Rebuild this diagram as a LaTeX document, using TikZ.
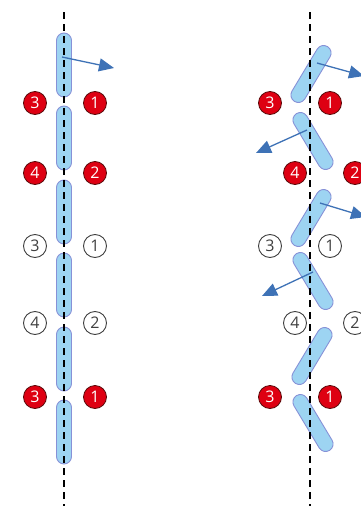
\documentclass[tikz,border=0pt]{standalone}
\usepackage{fontspec}
\setmainfont{Open Sans}
\usepackage{xcolor}
\usetikzlibrary{arrows.meta, positioning, calc}

\definecolor{rodfill}{RGB}{157,212,242}
\definecolor{rodline}{RGB}{135,145,215}
\definecolor{vecblue}{RGB}{62,114,182}
\definecolor{atomred}{RGB}{222,0,18}
\definecolor{atomrim}{RGB}{90,10,10}

\begin{document}
\begin{tikzpicture}[x=1pt, y=-1pt]
    \tikzstyle{rod} = [rectangle, draw=rodline, fill=rodfill, line width=0.9pt, minimum width=15pt, minimum height=64pt, rounded corners=7.5pt, inner sep=0pt]
    \tikzstyle{filled} = [circle, draw=atomrim, fill=atomred, text=white, line width=0.8pt, minimum size=23pt, inner sep=0pt, font=\fontsize{16}{16}\selectfont]
    \tikzstyle{empty} = [circle, draw=black!75, fill=white, text=black!75, line width=0.9pt, minimum size=23pt, inner sep=0pt, font=\fontsize{16}{16}\selectfont]
    \tikzstyle{vec} = [vecblue, line width=1.3pt, -{Triangle[length=15pt, width=13pt]}]
    \tikzstyle{axis} = [black, line width=1.3pt, dash pattern=on 7pt off 5pt]

    \useasboundingbox (0,0) rectangle (361,506);
    \clip (0,0) rectangle (361,506);

    % Left: straight chain
    \foreach \y [count=\i] in {65,138,212,285,359,432}
        \node[rod] (l\i) at (64,\y) {};
    \coordinate (laxtop) at (64,12);
    \coordinate (laxbot) at (64,506);
    \draw[axis] (laxtop) -- (laxbot);

    \node[filled] (la1) at (35,103) {3};
    \node[filled] (lb1) at (95,103) {1};
    \node[filled] (la2) at (35,173) {4};
    \node[filled] (lb2) at (95,173) {2};
    \node[empty] (la3) at (35,246) {3};
    \node[empty] (lb3) at (95,246) {1};
    \node[empty] (la4) at (35,323) {4};
    \node[empty] (lb4) at (95,323) {2};
    \node[filled] (la5) at (35,397) {3};
    \node[filled] (lb5) at (95,397) {1};

    \coordinate (lv1s) at (62,57);
    \coordinate (lv1e) at (114,68);
    \draw[vec] (lv1s) -- (lv1e);

    % Right: tilted chain
    \node[rod, rotate=-31] (r1) at (311,74) {};
    \node[rod, rotate=31] (r2) at (313,141) {};
    \node[rod, rotate=-31] (r3) at (311,218) {};
    \node[rod, rotate=31] (r4) at (313,281) {};
    \node[rod, rotate=-31] (r5) at (312,356) {};
    \node[rod, rotate=31] (r6) at (313,423) {};
    \coordinate (raxtop) at (310,12);
    \coordinate (raxbot) at (310,506);
    \draw[axis] (raxtop) -- (raxbot);

    \node[filled] (ra1) at (270,103) {3};
    \node[filled] (rb1) at (330,103) {1};
    \node[filled] (ra2) at (295,173) {4};
    \node[filled] (rb2) at (355,173) {2};
    \node[empty] (ra3) at (270,246) {3};
    \node[empty] (rb3) at (330,246) {1};
    \node[empty] (ra4) at (295,323) {4};
    \node[empty] (rb4) at (355,323) {2};
    \node[filled] (ra5) at (270,397) {3};
    \node[filled] (rb5) at (330,397) {1};

    % Arrows
    \coordinate (rv1s) at (317,63);
    \coordinate (rv1e) at (364,76);
    \coordinate (rv2s) at (307,130);
    \coordinate (rv2e) at (256,153);
    \coordinate (rv3s) at (320,203);
    \coordinate (rv3e) at (366,217);
    \coordinate (rv4s) at (313,272);
    \coordinate (rv4e) at (262,296);
    \draw[vec] (rv1s) -- (rv1e);
    \draw[vec] (rv2s) -- (rv2e);
    \draw[vec] (rv3s) -- (rv3e);
    \draw[vec] (rv4s) -- (rv4e);
\end{tikzpicture}
\end{document}
